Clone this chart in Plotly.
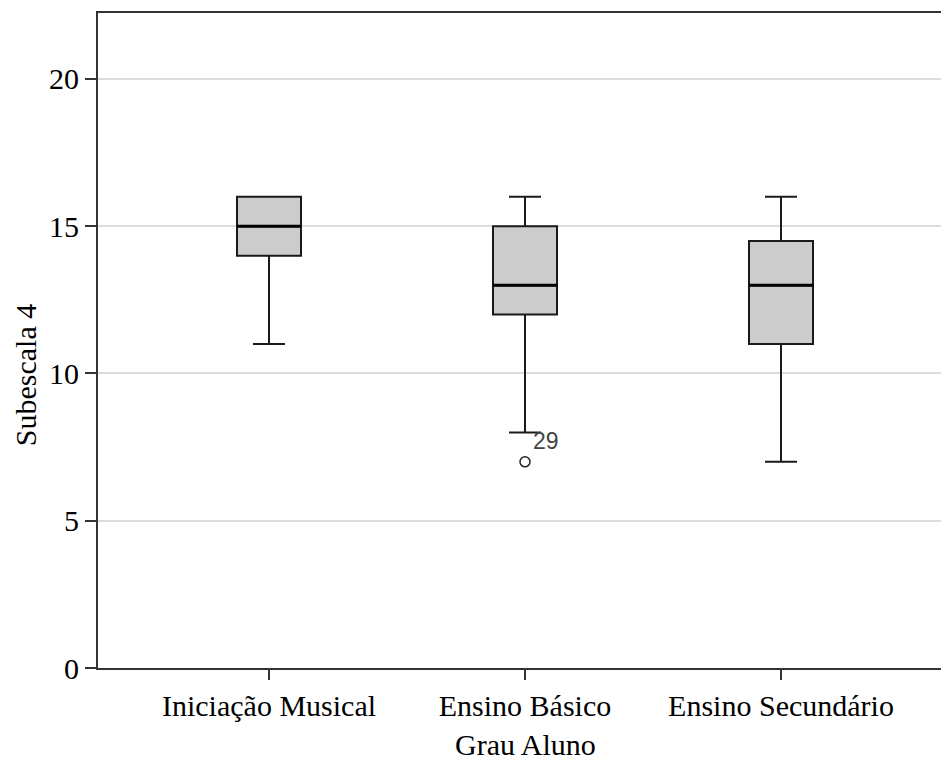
import plotly.graph_objects as go

# Data
categories = ["Iniciação Musical", "Ensino Básico", "Ensino Secundário"]
positions = [1, 2, 3]
lower_whisker = [11, 8, 7]
q1 = [14, 12, 11]
median = [15, 13, 13]
q3 = [16, 15, 14.5]
upper_whisker = [16, 16, 16]

outlier_pos = [2]
outlier_val = [7]
outlier_label = ["29"]

y_ticks = [0, 5, 10, 15, 20]

BOX_W = 0.25
SERIF = "Liberation Serif, Times New Roman, serif"

fig = go.Figure()

fig.add_trace(go.Box(
    x=positions, q1=q1, median=median, q3=q3,
    lowerfence=lower_whisker, upperfence=upper_whisker,
    width=BOX_W, whiskerwidth=0.5,
    fillcolor="#cccccc",
    line=dict(color="#1a1a1a", width=2),
    boxpoints=False, showlegend=False, hoverinfo="skip",
))

# thicker median lines
mx, my = [], []
for p, m in zip(positions, median):
    mx += [p - BOX_W / 2, p + BOX_W / 2, None]
    my += [m, m, None]
fig.add_trace(go.Scatter(
    x=mx, y=my, mode="lines",
    line=dict(color="#000000", width=3),
    showlegend=False, hoverinfo="skip",
))

# outlier
fig.add_trace(go.Scatter(
    x=outlier_pos, y=outlier_val, mode="markers",
    marker=dict(symbol="circle-open", size=10, color="#222222",
                line=dict(width=1.5, color="#222222")),
    showlegend=False, hoverinfo="skip",
))
for xp, yv, lab in zip(outlier_pos, outlier_val, outlier_label):
    fig.add_annotation(x=xp, y=yv, text=lab, showarrow=False,
                       xshift=21, yshift=21,
                       font=dict(family="Liberation Sans, Arial, sans-serif",
                                 size=23, color="#444444"))

# axis titles
fig.add_annotation(text="Subescala 4", xref="paper", yref="paper",
                   x=0, y=0.447, xshift=-73, textangle=-90,
                   showarrow=False, xanchor="center", yanchor="middle",
                   font=dict(family=SERIF, size=30, color="#000000"))
fig.add_annotation(text="Grau Aluno", xref="x", yref="paper",
                   x=2, y=0, yshift=-76, borderpad=0,
                   showarrow=False, xanchor="center", yanchor="middle",
                   font=dict(family=SERIF, size=30, color="#000000"))

fig.update_layout(
    width=941, height=761,
    margin=dict(l=98, r=0, t=13, b=93),
    paper_bgcolor="white", plot_bgcolor="white",
    font=dict(family=SERIF, size=30, color="#000000"),
)

fig.update_xaxes(
    range=[0.332, 3.625], automargin=False,
    tickmode="array", tickvals=positions, ticktext=categories,
    ticks="outside", ticklen=10, tickwidth=1.5, tickcolor="#333333",
    showline=True, linecolor="#333333", linewidth=2, mirror=True,
    showgrid=False, zeroline=False,
    tickfont=dict(family=SERIF, size=30),
)
fig.update_yaxes(
    range=[0, 22.24], automargin=False,
    tickmode="array", tickvals=y_ticks,
    ticks="outside", ticklen=11, tickwidth=1.5, tickcolor="#333333",
    showline=True, linecolor="#333333", linewidth=2,
    showgrid=True, gridcolor="#dcdcdc", gridwidth=1.5,
    zeroline=False,
    tickfont=dict(family=SERIF, size=30),
)

fig.write_html("out.html")
